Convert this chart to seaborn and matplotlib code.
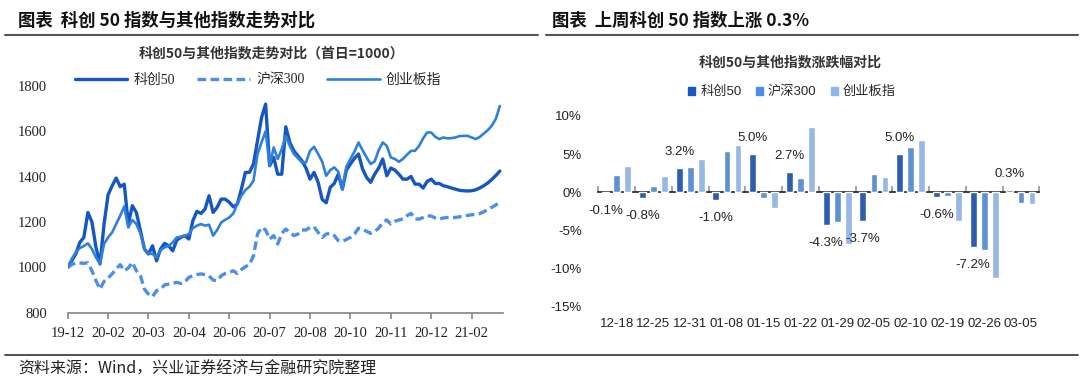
import pandas as pd
import seaborn as sns
import matplotlib.pyplot as plt
from matplotlib.lines import Line2D
from matplotlib.patches import Patch
from matplotlib.ticker import FuncFormatter

sns.set_theme(style='white')
plt.rcParams['font.family'] = ['Noto Sans CJK SC', 'DejaVu Sans']
plt.rcParams['axes.unicode_minus'] = False

SERIF = ['Liberation Serif', 'Noto Sans CJK SC']
SANS = ['Liberation Sans', 'Noto Sans CJK SC']

# ---- left: index levels, first day = 1000 ----
kc50 = [1000, 1029, 1059, 1110, 1132, 1242, 1200, 1088, 1015, 1191,
        1320, 1360, 1394, 1356, 1367, 1191, 1272, 1242, 1162, 1081,
        1059, 1095, 1029, 1081, 1106, 1095, 1073, 1120, 1132, 1140,
        1125, 1206, 1247, 1238, 1257, 1316, 1242, 1265, 1301, 1301,
        1287, 1267, 1279, 1345, 1419, 1419, 1456, 1559, 1661, 1720,
        1448, 1485, 1411, 1411, 1620, 1551, 1514, 1492, 1470, 1438,
        1389, 1419, 1375, 1300, 1285, 1353, 1370, 1411, 1345, 1429,
        1456, 1481, 1500, 1434, 1397, 1375, 1411, 1438, 1478, 1404,
        1438, 1429, 1411, 1389, 1389, 1401, 1367, 1367, 1350, 1379,
        1389, 1370, 1370, 1360, 1356, 1350, 1345, 1340, 1338, 1337,
        1338, 1342, 1350, 1360, 1372, 1388, 1405, 1425]
hs300 = [1000, 1012, 1020, 1019, 1018, 1020, 985, 941, 904, 938,
         953, 971, 993, 1012, 985, 997, 1022, 985, 963, 904,
         882, 871, 897, 904, 923, 926, 929, 934, 929, 935,
         956, 963, 968, 971, 968, 962, 944, 941, 963, 973,
         978, 985, 973, 990, 1003, 1012, 1051, 1147, 1176, 1165,
         1125, 1140, 1103, 1150, 1169, 1154, 1140, 1147, 1165, 1165,
         1176, 1179, 1154, 1132, 1147, 1150, 1140, 1118, 1115, 1123,
         1132, 1147, 1173, 1167, 1159, 1150, 1159, 1173, 1198, 1209,
         1191, 1203, 1209, 1213, 1228, 1238, 1213, 1213, 1220, 1228,
         1226, 1218, 1213, 1218, 1220, 1220, 1220, 1223, 1226, 1229,
         1232, 1234, 1237, 1245, 1256, 1265, 1275, 1287]
cyb = [1000, 1037, 1066, 1085, 1094, 1106, 1081, 1044, 1015, 1103,
       1132, 1154, 1191, 1228, 1269, 1176, 1209, 1191, 1150, 1081,
       1062, 1059, 1044, 1076, 1088, 1095, 1110, 1132, 1135, 1140,
       1147, 1173, 1184, 1191, 1184, 1188, 1140, 1165, 1198, 1210,
       1220, 1238, 1279, 1316, 1341, 1356, 1382, 1500, 1551, 1600,
       1448, 1529, 1478, 1522, 1580, 1536, 1500, 1482, 1463, 1463,
       1514, 1532, 1500, 1467, 1404, 1429, 1441, 1422, 1345, 1444,
       1478, 1511, 1551, 1517, 1485, 1456, 1467, 1517, 1551, 1536,
       1485, 1478, 1466, 1478, 1497, 1514, 1514, 1536, 1569, 1595,
       1595, 1576, 1566, 1573, 1569, 1570, 1573, 1579, 1580, 1580,
       1573, 1566, 1575, 1590, 1605, 1625, 1655, 1712]
line_ticks = ['19-12', '20-02', '20-03', '20-04', '20-06', '20-07',
              '20-08', '20-10', '20-11', '20-12', '21-02']

# ---- right: weekly change, % ----
weeks = ['12-18', '12-25', '12-31', '01-08', '01-15', '01-22',
         '01-29', '02-05', '02-10', '02-19', '02-26', '03-05']
wk_kc50 = [-0.1, -0.8, 3.2, -1.0, 5.0, 2.7, -4.3, -3.7, 5.0, -0.6, -7.2, 0.3]
wk_hs300 = [2.2, 0.8, 3.3, 5.4, -0.7, 1.9, -3.9, 2.4, 5.9, -0.5, -7.6, -1.4]
wk_cyb = [3.4, 2.1, 4.3, 6.2, -2.0, 8.6, -6.8, 2.0, 6.8, -3.8, -11.2, -1.5]

names = ['科创50', '沪深300', '创业板指']
line_cols = {'科创50': '#1556C2', '沪深300': '#4C8FEA', '创业板指': '#2F80DA'}
bar_cols = ['#1A57C2', '#4A8EE8', '#8AB6F2']

W, H = 1080, 383
fig = plt.figure(figsize=(W / 100, H / 100), dpi=100)

def fx(px):
    return px / W

def fy(py):
    return 1 - py / H

# headers / frame lines
fig.text(fx(18), fy(21), '图表  科创 50 指数与其他指数走势对比', fontsize=12.5,
         fontweight='bold', va='center', color='#111111')
fig.text(fx(552), fy(21), '图表  上周科创 50 指数上涨 0.3%', fontsize=12.5,
         fontweight='bold', va='center', color='#111111')
fig.add_artist(Line2D([fx(5), fx(538)], [fy(35), fy(35)], color='#555555', lw=1.5))
fig.add_artist(Line2D([fx(546), fx(1078)], [fy(35), fy(35)], color='#555555', lw=1.5))
fig.add_artist(Line2D([fx(5), fx(1078)], [fy(355), fy(355)], color='#333333', lw=1.2))
fig.text(fx(18), fy(369), '资料来源：Wind，兴业证券经济与金融研究院整理', fontsize=11.5,
         va='center', color='#222222')

# ---- left chart ----
fig.text(fx(272), fy(53), '科创50与其他指数走势对比（首日=1000）', fontsize=10,
         fontweight='bold', ha='center', va='center', color='#333333')

df = pd.DataFrame({'idx': range(len(kc50)), '科创50': kc50, '沪深300': hs300, '创业板指': cyb})
df = df.melt('idx', var_name='指数', value_name='值')

ax1 = fig.add_axes([fx(67.7), fy(312.7), fx(435), (312.7 - 86) / H])
sns.lineplot(data=df, x='idx', y='值', hue='指数', style='指数', size='指数',
             hue_order=names, palette=line_cols,
             dashes={'科创50': '', '沪深300': (2.6, 1.3), '创业板指': ''},
             sizes={'科创50': 2.4, '沪深300': 2.4, '创业板指': 1.9},
             legend=False, ax=ax1)
ax1.set_xlim(0, 107.7)
ax1.set_ylim(800, 1800)
ax1.set_yticks(range(800, 1801, 200))
ax1.set_xticks(range(0, 101, 10))
ax1.set_xticklabels(line_ticks)
ax1.set_xlabel('')
ax1.set_ylabel('')
for s in ['left', 'top', 'right']:
    ax1.spines[s].set_visible(False)
ax1.spines['bottom'].set_color('#8a8a8a')
ax1.tick_params(axis='x', length=4, color='#8a8a8a', direction='out', pad=6, bottom=True)
ax1.tick_params(axis='y', length=0, pad=15)
for lab in ax1.get_xticklabels() + ax1.get_yticklabels():
    lab.set_family(SERIF)
    lab.set_fontsize(10.5)
    lab.set_color('#222222')

handles = [Line2D([], [], color=line_cols['科创50'], lw=2.4),
           Line2D([], [], color=line_cols['沪深300'], lw=2.4, dashes=(2.6, 1.3)),
           Line2D([], [], color=line_cols['创业板指'], lw=1.9)]
fig.legend(handles, names, loc='center left', bbox_to_anchor=(fx(62), fy(80)),
           ncol=3, frameon=False, handlelength=3.8, handletextpad=0.45,
           columnspacing=1.6, prop={'family': SERIF, 'size': 10})

# ---- right chart ----
fig.text(fx(790), fy(62), '科创50与其他指数涨跌幅对比', fontsize=10,
         fontweight='bold', ha='center', va='center', color='#333333')

dfb = pd.DataFrame({'date': weeks * 3,
                    'idx': [n for n in names for _ in weeks],
                    'val': wk_kc50 + wk_hs300 + wk_cyb})
ax2 = fig.add_axes([fx(598.3), fy(306.7), fx(441), 190.7 / H])
sns.barplot(data=dfb, x='date', y='val', hue='idx', hue_order=names,
            palette=bar_cols, width=0.9, gap=0.38, legend=False, ax=ax2)
ax2.set_ylim(-15, 10)
ax2.set_yticks(range(-15, 11, 5))
ax2.yaxis.set_major_formatter(FuncFormatter(lambda v, p: f'{v:.0f}%'))
ax2.set_xlabel('')
ax2.set_ylabel('')
for s in ax2.spines.values():
    s.set_visible(False)
ax2.tick_params(axis='both', length=0)
ax2.tick_params(axis='x', pad=8)
ax2.tick_params(axis='y', pad=12)
for lab in ax2.get_xticklabels() + ax2.get_yticklabels():
    lab.set_family(SANS)
    lab.set_fontsize(9.5)
    lab.set_color('#222222')

zero = ax2.secondary_xaxis(15 / 25)
zero.set_xticks([i - 0.5 for i in range(len(weeks) + 1)])
zero.set_xticklabels([])
zero.tick_params(length=4, color='#999999', direction='out')
zero.spines['bottom'].set_color('#999999')
zero.spines['bottom'].set_linewidth(1.2)

for bar, v in zip(ax2.containers[0], wk_kc50):
    x = bar.get_x() + bar.get_width() / 2
    off = 16 if v >= 0 else -18
    ax2.annotate(f'{v:.1f}%', (x, v), xytext=(0, off), textcoords='offset pixels',
                 ha='center', va='center', fontsize=9.5, family=SANS, color='#222222')

bh = [Patch(color=c) for c in bar_cols]
fig.legend(bh, names, loc='center', bbox_to_anchor=(fx(792), fy(92)), ncol=3,
           frameon=False, handlelength=0.55, handleheight=0.55, handletextpad=0.35,
           columnspacing=1.1, prop={'family': SANS, 'size': 9.5})

fig.savefig('out.png', dpi=100)
